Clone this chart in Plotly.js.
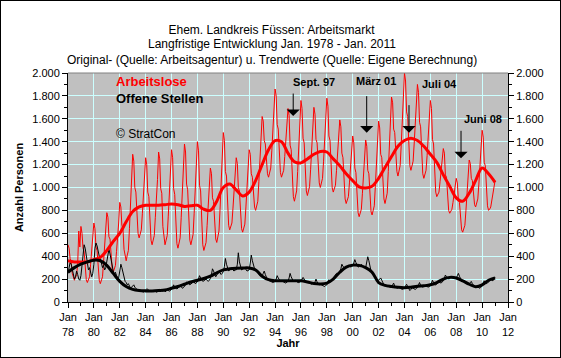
<!DOCTYPE html>
<html>
<head>
<meta charset="utf-8">
<script src="https://cdn.plot.ly/plotly-3.0.1.min.js"></script>
<style>
html,body{margin:0;padding:0;background:#fff;}
#wrap{width:561px;height:358px;box-sizing:border-box;border:1px solid #000;overflow:hidden;}
#chart{width:559px;height:356px;}
</style>
</head>
<body>
<div id="wrap"><div id="chart"></div></div>
<script>
// Monthly series Jan 1978 .. Jan 2011
var startYear = 1978;
var arbeitslose = [
500,470,380,350,250,210,190,215,240,330,620,480,
660,600,470,440,270,195,170,200,220,330,480,530,
690,640,480,450,270,190,160,190,220,350,530,590,
780,740,570,550,360,290,260,290,320,440,630,690,
870,830,670,640,460,390,360,410,450,640,920,1010,
1290,1230,1000,960,710,600,560,600,630,770,980,1050,
1260,1200,960,920,650,540,500,540,580,740,990,1070,
1310,1250,990,950,660,540,500,540,580,750,1000,1080,
1330,1260,990,940,640,510,470,520,560,740,1020,1110,
1380,1310,1030,980,680,540,500,550,590,770,1040,1130,
1400,1320,1020,970,640,500,450,490,520,670,880,950,
1170,1120,910,880,650,550,520,570,620,810,1100,1190,
1480,1410,1140,1100,800,670,630,660,690,820,1010,1070,
1260,1210,1000,970,740,640,610,650,680,830,1040,1110,
1330,1290,1120,1090,910,830,800,840,880,1050,1290,1370,
1620,1580,1410,1380,1200,1120,1090,1130,1170,1320,1550,1630,
1860,1800,1550,1510,1240,1130,1090,1120,1150,1270,1450,1510,
1690,1630,1370,1330,1040,920,880,920,970,1140,1410,1500,
1760,1690,1430,1390,1100,970,930,970,1010,1160,1390,1470,
1700,1640,1420,1390,1140,1040,1000,1040,1080,1230,1470,1550,
1780,1710,1450,1410,1120,1000,960,990,1020,1150,1340,1400,
1590,1530,1300,1260,1010,900,860,890,920,1040,1210,1270,
1450,1390,1170,1130,890,780,745,780,810,950,1150,1210,
1415,1360,1150,1120,890,790,760,800,840,1010,1250,1330,
1580,1520,1290,1260,1000,900,860,910,950,1140,1420,1510,
1790,1740,1510,1480,1240,1140,1100,1150,1190,1370,1640,1730,
2000,1930,1660,1620,1320,1190,1150,1190,1230,1380,1600,1680,
1900,1830,1570,1530,1240,1120,1080,1110,1150,1280,1490,1560,
1760,1690,1420,1380,1090,960,920,940,960,1050,1170,1210,
1340,1300,1110,1090,890,800,775,790,810,870,960,990,
1080,1040,890,870,700,630,610,640,670,800,990,1050,
1240,1210,1080,1060,910,850,830,860,900,1030,1230,1300,
1500,1440,1220,1190,940,840,800,810,830,880,960,980,
1060];
var offeneStellen = [
250,300,345,330,280,230,200,220,270,240,200,190,
230,320,430,500,470,390,330,280,300,260,220,250,
330,470,515,490,440,400,380,340,300,320,280,300,
360,430,460,420,360,310,270,240,260,230,200,210,
260,330,300,250,210,180,170,150,160,140,120,130,
140,150,130,115,110,100,105,95,100,90,85,95,
105,115,110,100,95,90,95,90,100,95,85,90,
100,110,105,100,95,100,90,95,110,100,95,100,
110,130,150,125,120,115,120,130,140,135,120,125,
135,150,175,170,160,150,155,165,180,175,160,165,
175,200,230,210,190,180,185,195,200,190,180,190,
205,240,290,270,240,220,235,250,265,255,240,250,
265,310,380,330,290,270,280,290,300,280,270,280,
280,330,430,350,300,280,285,290,300,285,270,275,
280,340,410,360,310,290,280,270,260,245,230,225,
225,250,270,240,210,195,190,185,180,175,170,175,
180,200,230,210,190,180,185,180,175,170,165,175,
180,210,250,220,195,180,185,190,180,170,170,175,
180,200,215,200,180,170,175,170,165,160,155,160,
160,175,200,175,160,150,155,150,145,140,135,145,
150,170,195,180,185,200,215,230,240,250,245,255,
265,290,330,310,300,295,300,310,320,315,305,310,
315,340,370,345,320,305,310,320,330,320,305,300,
300,340,395,360,310,270,250,240,230,220,200,195,
190,200,210,190,165,150,145,140,135,140,130,128,
130,150,165,140,125,120,125,130,120,115,110,115,
120,140,155,135,120,100,110,125,120,115,110,118,
125,150,170,145,135,130,135,145,140,135,130,135,
140,165,190,170,150,150,160,170,175,170,165,175,
185,210,235,220,205,200,205,215,225,215,205,210,
205,230,250,225,200,185,180,190,185,175,165,160,
160,170,180,160,145,135,130,135,130,125,120,130,
140,165,185,170,160,165,175,185,195,190,185,200,
215];
// Trend values, half-yearly (Jan, Jul) 1978 .. Jan 2011
var trendArbeitslose = [
360,350, 350,350, 370,390, 450,530, 600,700, 790,830,
845,845, 845,850, 856,850, 835,840, 845,810, 800,880,
1000,1030, 980,926, 960,1060, 1200,1330, 1410,1400, 1300,1225,
1215,1250, 1290,1315, 1310,1250, 1190,1120, 1060,1005, 995,1010,
1080,1175, 1270,1360, 1410,1430, 1410,1360, 1290,1220, 1110,1010,
910,880, 950,1060, 1170,1120, 1045];
var trendOffeneStellen = [
260,300, 330,350, 365,360, 320,250, 180,135, 110,100,
97,97, 100,105, 120,135, 155,175, 190,205, 225,255,
280,290, 295,297, 297,280, 225,195, 186,186, 186,186,
185,175, 162,158, 165,200, 260,305, 322,320, 300,260,
170,145, 135,128, 125,130, 138,142, 150,170, 200,215,
210,185, 155,134, 150,190, 210];
var xTickYears = ['78','80','82','84','86','88','90','92','94','96','98','00','02','04','06','08','10','12'];
var titleLines = ['Ehem. Landkreis Füssen: Arbeitsmarkt',
  'Langfristige Entwicklung Jan. 1978 - Jan. 2011',
  'Original- (Quelle: Arbeitsagentur) u. Trendwerte (Quelle: Eigene Berechnung)'];
var arrowNotes = [
  {label:'Sept. 97', date:'1995-05-28', value:1624, ay:-24, tx:313.7, ty:81.7},
  {label:'März 01', date:'2001-01-30', value:1479, ay:-38, tx:376, ty:80.7},
  {label:'Juli 04', date:'2004-05-08', value:1479, ay:-29, tx:439, ty:84},
  {label:'Juni 08', date:'2008-05-15', value:1255, ay:-29, tx:482.7, ty:119.3}
];

function pad(n){return (n<10?'0':'')+n;}
var monthX = [];
for (var i=0;i<arbeitslose.length;i++){
  var y = startYear + Math.floor(i/12), m = (i%12)+1;
  monthX.push(y+'-'+pad(m)+'-01');
}
var halfX = [];
for (var j=0;j<trendArbeitslose.length;j++){
  var yy = startYear + Math.floor(j/2), mm = (j%2)?7:1;
  halfX.push(yy+'-'+pad(mm)+'-01');
}
var tickVals = xTickYears.map(function(t,k){return (startYear+2*k)+'-01-01';});
var tickText = xTickYears.map(function(t){return 'Jan<br>'+t;});

var FONT = 'Liberation Sans, Arial, sans-serif';
var traces = [
  {x:monthX, y:arbeitslose, type:'scatter', mode:'lines', name:'Arbeitslose',
   line:{color:'#ff0000', width:1}, hoverinfo:'skip'},
  {x:monthX, y:offeneStellen, type:'scatter', mode:'lines', name:'Offene Stellen',
   line:{color:'#000000', width:1}, hoverinfo:'skip'},
  {x:halfX, y:trendArbeitslose, type:'scatter', mode:'lines', name:'Trend Arbeitslose',
   line:{color:'#ff0000', width:3, shape:'spline', smoothing:1}, hoverinfo:'skip'},
  {x:halfX, y:trendOffeneStellen, type:'scatter', mode:'lines', name:'Trend Offene Stellen',
   yaxis:'y2', line:{color:'#000000', width:3, shape:'spline', smoothing:1}, hoverinfo:'skip'}
];

// page px -> paper coords (plot area x 68..508, y 73..302)
function px(x){return (x-68)/440;}
function py(y){return (302-y)/229;}

var annotations = [
  {text:titleLines[1], xref:'paper', yref:'paper', x:px(271.5), y:py(44), xanchor:'center', yanchor:'middle',
   showarrow:false, font:{family:FONT, size:12, color:'#000000'}},
  {text:titleLines[2], xref:'paper', yref:'paper', x:px(271.5), y:py(60), xanchor:'center', yanchor:'middle',
   showarrow:false, font:{family:FONT, size:12, color:'#000000'}},
  {text:'Arbeitslose', xref:'paper', yref:'paper', x:px(114), y:py(81.7), xanchor:'left', yanchor:'middle',
   showarrow:false, font:{family:FONT, size:13, color:'#ff0000', weight:'bold'}},
  {text:'Offene Stellen', xref:'paper', yref:'paper', x:px(114), y:py(98.3), xanchor:'left', yanchor:'middle',
   showarrow:false, font:{family:FONT, size:13, color:'#000000', weight:'bold'}},
  {text:'© StratCon', xref:'paper', yref:'paper', x:px(114), y:py(134), xanchor:'left', yanchor:'middle',
   showarrow:false, font:{family:FONT, size:12, color:'#000000'}}
];
arrowNotes.forEach(function(a){
  annotations.push({text:'', x:a.date, y:a.value, xref:'x', yref:'y', showarrow:true,
    ax:0, ay:a.ay, arrowhead:1, arrowsize:2.2, arrowwidth:1, arrowcolor:'#000000', standoff:0});
  annotations.push({text:a.label, xref:'paper', yref:'paper', x:px(a.tx), y:py(a.ty),
    xanchor:'center', yanchor:'middle', showarrow:false,
    font:{family:FONT, size:11, color:'#000000', weight:'bold'}});
});

var yCommon = {range:[0,2000], dtick:200, tick0:0, tickformat:',d', ticks:'outside', ticklen:5,
  tickcolor:'#000', showline:true, linecolor:'#000', linewidth:1, zeroline:false,
  tickfont:{family:FONT, size:11, color:'#000'},
  minor:{dtick:100, ticks:'outside', ticklen:3, tickcolor:'#000', showgrid:false}};

var layout = {
  width:559, height:356,
  margin:{l:67, r:52, t:72, b:55, pad:0},
  paper_bgcolor:'#ffffff', plot_bgcolor:'#c0c0c0',
  separators:',.',
  showlegend:false,
  font:{family:FONT, size:11, color:'#000'},
  title:{text:titleLines[0],
    font:{family:FONT, size:12, color:'#000'}, xref:'container', yref:'container',
    x:0.4839, xanchor:'center', y:0.930, yanchor:'top'},
  xaxis:{type:'date', range:['1978-01-01','2012-01-01'], tickvals:tickVals, ticktext:tickText,
    ticks:'outside', ticklen:5, tickcolor:'#000', showline:true, linecolor:'#000', linewidth:1,
    showgrid:true, gridcolor:'#ccffff', gridwidth:1, zeroline:false,
    tickfont:{family:FONT, size:11, color:'#000'},
    minor:{dtick:'M12', tick0:'1978-01-01', ticks:'outside', ticklen:3, tickcolor:'#000', showgrid:false},
    title:{text:'<b>Jahr</b>', font:{family:FONT, size:11, color:'#000'}, standoff:0}},
  yaxis:Object.assign({}, yCommon, {side:'left', showgrid:true, gridcolor:'#ccffff', gridwidth:1,
    title:{text:'<b>Anzahl Personen</b>', font:{family:FONT, size:11, color:'#000'}, standoff:6}}),
  yaxis2:Object.assign({}, yCommon, {side:'right', overlaying:'y', showgrid:false}),
  shapes:[{type:'line', xref:'paper', yref:'paper', x0:0, x1:1, y0:1, y1:1, line:{color:'#808080', width:1}}],
  annotations:annotations
};
Plotly.newPlot('chart', traces, layout, {displayModeBar:false, staticPlot:true});
</script>
</body>
</html>
